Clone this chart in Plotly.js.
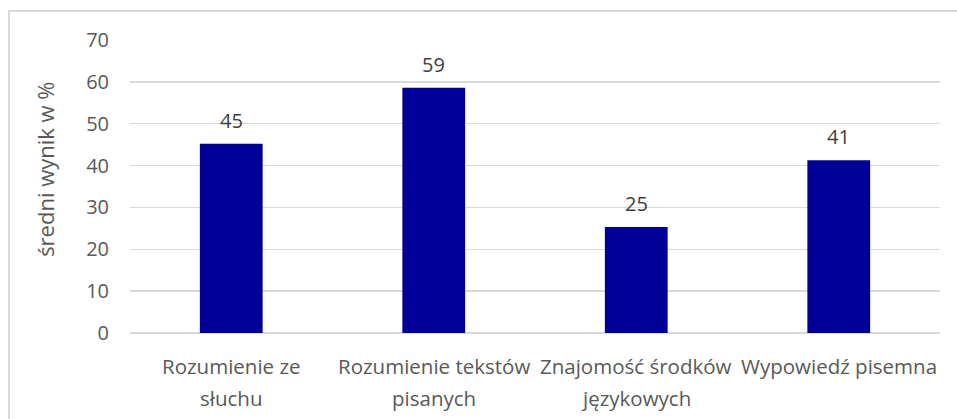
<!DOCTYPE html>
<html>
<head>
<meta charset="utf-8">
<script src="https://cdn.plot.ly/plotly-3.0.1.min.js"></script>
<style>
html,body{margin:0;padding:0;background:#fff;}
#wrap{position:relative;width:957px;height:419px;overflow:hidden;}
#frame{position:absolute;left:8px;top:10px;width:960px;height:420px;border-left:2px solid #d9d9d9;border-top:2px solid #d9d9d9;pointer-events:none;}
#chart{position:absolute;left:0;top:0;width:957px;height:419px;}
</style>
</head>
<body>
<div id="wrap"><div id="chart"></div><div id="frame"></div></div>
<script>
const categories = ["Rozumienie ze słuchu", "Rozumienie tekstów pisanych", "Znajomość środków językowych", "Wypowiedź pisemna"];
const categoryLines = [["Rozumienie ze", "słuchu"], ["Rozumienie tekstów", "pisanych"], ["Znajomość środków", "językowych"], ["Wypowiedź pisemna"]];
const values = [45.2, 58.6, 25.3, 41.3];
const valueLabels = ["45", "59", "25", "41"];
const yTicks = [0, 10, 20, 30, 40, 50, 60, 70];
const yTitle = "średni wynik w %";

const FONT = "Open Sans, sans-serif";
const TXT = "#595959";

const annotations = [];
categories.forEach((c, i) => {
  annotations.push({x: c, y: values[i], xref: "x", yref: "y", text: valueLabels[i], showarrow: false,
    yanchor: "bottom", yshift: 8, font: {family: FONT, size: 20, color: "#404040"}});
  categoryLines[i].forEach((ln, j) => {
    annotations.push({x: c, y: j === 0 ? -0.112 : -0.222, xref: "x", yref: "paper", text: ln, showarrow: false,
      yanchor: "middle", font: {family: FONT, size: 20.5, color: TXT}});
  });
});
annotations.push({x: -0.105, y: 0.56, xref: "paper", yref: "paper", text: yTitle, textangle: -90, showarrow: false,
  xanchor: "center", yanchor: "middle", font: {family: FONT, size: 22, color: TXT}});

const trace = {type: "bar", x: categories, y: values, marker: {color: "#000099", line: {width: 0}},
  hoverinfo: "none"};

const layout = {
  width: 957, height: 419,
  margin: {l: 130, r: 17, t: 40, b: 86, pad: 0},
  paper_bgcolor: "#fff", plot_bgcolor: "#fff",
  showlegend: false,
  bargap: 0.69,
  xaxis: {type: "category", showticklabels: false, showgrid: false, zeroline: false, showline: false, ticks: ""},
  yaxis: {range: [0, 70], tickvals: yTicks, ticktext: yTicks.map(String), showgrid: true, gridcolor: "#d9d9d9", gridwidth: 1.3,
    zeroline: true, zerolinecolor: "#d9d9d9", zerolinewidth: 1.3, showline: false, ticks: "", ticklabelstandoff: 20,
    tickfont: {family: FONT, size: 20, color: TXT}},
  annotations: annotations,
  font: {family: FONT}
};
Plotly.newPlot("chart", [trace], layout, {displayModeBar: false, staticPlot: true});
</script>
</body>
</html>
